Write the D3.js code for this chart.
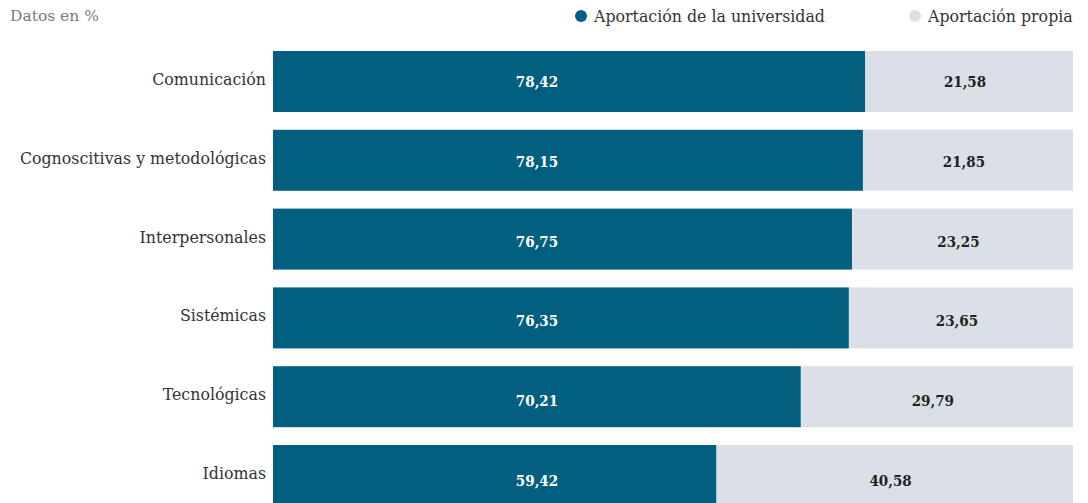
<!DOCTYPE html>
<html>
<head>
<meta charset="utf-8">
<script src="https://cdn.jsdelivr.net/npm/d3@7"></script>
<style>
  body { margin: 0; background: #fff; }
  svg { display: block; }
  text { font-family: "DejaVu Serif", serif; }
  .val { font-family: "DejaVu Serif Condensed", "DejaVu Serif", serif; font-stretch: condensed; font-weight: bold; font-size: 15px; }
</style>
</head>
<body>
<div id="chart"></div>
<script>
// Contribution to competences, in %
const categories = ["Comunicación", "Cognoscitivas y metodológicas", "Interpersonales", "Sistémicas", "Tecnológicas", "Idiomas"];
const universidad = [78.42, 78.15, 76.75, 76.35, 70.21, 59.42];
const propia = [21.58, 21.85, 23.25, 23.65, 29.79, 40.58];
const seriesNames = ["Aportación de la universidad", "Aportación propia"];

const width = 1088, height = 503;
const left = 273, right = 1073;
const uniLabelX = 537; // dark labels sit in one column
const colors = ["#025f80", "#dae0e6"];

const svg = d3.select("#chart")
  .append("svg")
  .attr("width", width)
  .attr("height", height);

const data = categories.map((c, i) => ({ cat: c, uni: universidad[i], pro: propia[i] }));

// scale as measured off the bars; the light bar fills up to the right edge
const x = d3.scaleLinear().domain([0, 100]).range([251, 1034]);

const y = d3.scaleBand()
  .domain(categories)
  .range([51, 51 + 6 * 78.8 - 17.8])
  .paddingInner(0.226);

// value labels sit a bit lower on each row
const yLab = d3.scalePoint().domain(categories).range([81.7, 480.7]);

// header
svg.append("text")
  .attr("x", 10).attr("y", 21)
  .attr("fill", "#7a7a7a")
  .style("font-size", "15.5px")
  .text("Datos en %");

// legend
const legX = [581, 915];
const leg = svg.selectAll("g.leg").data(seriesNames).join("g")
  .attr("class", "leg")
  .attr("transform", (d, i) => `translate(${legX[i]},16)`);
leg.append("circle").attr("r", 6).attr("fill", (d, i) => colors[i]);
leg.append("text")
  .attr("x", 13).attr("dy", "0.35em")
  .attr("fill", "#333")
  .style("font-size", "15.8px")
  .text(d => d);

const row = svg.selectAll("g.row").data(data).join("g").attr("class", "row");

// light bar (own contribution) reaches the right edge
row.append("rect")
  .attr("x", d => x(d.uni))
  .attr("y", d => y(d.cat))
  .attr("width", d => right - x(d.uni))
  .attr("height", y.bandwidth())
  .attr("fill", colors[1]);

row.append("rect")
  .attr("x", left)
  .attr("y", d => y(d.cat))
  .attr("width", d => x(d.uni) - left)
  .attr("height", y.bandwidth())
  .attr("fill", colors[0]);

// category labels
row.append("text")
  .attr("x", left - 7)
  .attr("y", d => y(d.cat) + y.bandwidth() / 2 - 2)
  .attr("dy", "0.35em")
  .attr("text-anchor", "end")
  .attr("fill", "#333")
  .style("font-size", "15.8px")
  .text(d => d.cat);

const fmt = v => v.toFixed(2).replace(".", ",");

row.append("text")
  .attr("class", "val")
  .attr("x", uniLabelX)
  .attr("y", d => yLab(d.cat))
  .attr("dy", "0.35em")
  .attr("text-anchor", "middle")
  .attr("fill", "#fff")
  .text(d => fmt(d.uni));

row.append("text")
  .attr("class", "val")
  .attr("x", d => (x(d.uni) + right) / 2 - 4)
  .attr("y", d => yLab(d.cat))
  .attr("dy", "0.35em")
  .attr("text-anchor", "middle")
  .attr("fill", "#222")
  .text(d => fmt(d.pro));
</script>
</body>
</html>
